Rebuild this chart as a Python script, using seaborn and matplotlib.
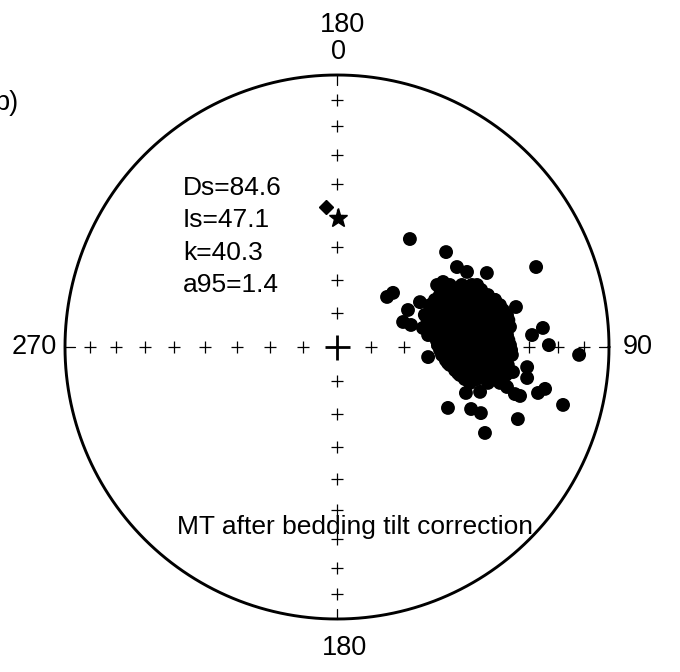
import numpy as np
import pandas as pd
import matplotlib
matplotlib.use("Agg")
import matplotlib.pyplot as plt
import seaborn as sns

# ---------------- data (equal-area projected coordinates, unit-radius net) ----------------
east_outer = [0.268, 0.401, 0.732, 0.184, 0.206, 0.658, 0.261, 0.243, 0.272, 0.551,
              0.441, 0.478, 0.757, 0.717, 0.779, 0.890, 0.335, 0.474, 0.408, 0.493,
              0.529, 0.665, 0.544, 0.831, 0.765, 0.739, 0.625, 0.654, 0.673, 0.699,
              0.699, 0.526, 0.555, 0.305, 0.368, 0.390, 0.515, 0.581, 0.636, 0.316,
              0.335, 0.408, 0.445, 0.647]
north_outer = [0.397, 0.349, 0.294, 0.184, 0.199, 0.147, 0.136, 0.092, 0.081, 0.272,
               0.294, 0.276, 0.070, 0.044, 0.007, -0.029, -0.037, -0.169, -0.224, -0.228,
               -0.243, -0.265, -0.316, -0.213, -0.154, -0.169, -0.147, -0.173, -0.180, -0.074,
               -0.114, -0.165, -0.132, 0.165, 0.228, 0.239, 0.228, 0.173, 0.074, 0.070,
               0.044, -0.059, -0.096, -0.092]

east_core = [0.415, 0.459, 0.496,
             0.400, 0.441, 0.485, 0.530,
             0.378, 0.423, 0.467, 0.511, 0.555,
             0.360, 0.404, 0.448, 0.492, 0.536, 0.580,
             0.342, 0.386, 0.430, 0.474, 0.518, 0.562, 0.599,
             0.345, 0.389, 0.433, 0.478, 0.522, 0.566, 0.610,
             0.323, 0.367, 0.411, 0.456, 0.500, 0.544, 0.588, 0.625,
             0.333, 0.377, 0.421, 0.465, 0.509, 0.553, 0.597, 0.630,
             0.342, 0.386, 0.430, 0.474, 0.518, 0.562, 0.606,
             0.351, 0.395, 0.439, 0.483, 0.527, 0.571, 0.615,
             0.360, 0.404, 0.448, 0.492, 0.536, 0.581, 0.625,
             0.366, 0.410, 0.454, 0.498, 0.542, 0.586, 0.630,
             0.371, 0.415, 0.459, 0.503, 0.547, 0.592, 0.636,
             0.379, 0.423, 0.467, 0.511, 0.555, 0.599, 0.640,
             0.386, 0.430, 0.474, 0.518, 0.562, 0.606, 0.643,
             0.400, 0.445, 0.489, 0.533, 0.577, 0.617,
             0.415, 0.459, 0.503, 0.548, 0.592, 0.628,
             0.434, 0.478, 0.522, 0.566, 0.606,
             0.452, 0.496, 0.540, 0.584, 0.621,
             0.470, 0.514, 0.558, 0.600,
             0.489, 0.599]
north_core = ([0.228] * 3 + [0.210] * 4 + [0.191] * 5 + [0.173] * 6 + [0.154] * 7 +
              [0.136] * 7 + [0.118] * 8 + [0.099] * 8 + [0.081] * 7 + [0.063] * 7 +
              [0.044] * 7 + [0.026] * 7 + [0.007] * 7 + [-0.011] * 7 + [-0.029] * 7 +
              [-0.048] * 6 + [-0.066] * 6 + [-0.085] * 5 + [-0.103] * 5 + [-0.118] * 4 +
              [-0.132] * 2)

star_en = [0.004, 0.474]
diamond_en = [-0.040, 0.515]

grid_incs = [10, 20, 30, 40, 50, 60, 70, 80]
stats_lines = ["Ds=84.6", "Is=47.1", "k=40.3", "a95=1.4"]
title_text = "MT after bedding tilt correction"

# ---------------- plotting ----------------
sns.set_theme(style="white")
plt.rcParams["font.family"] = ["Liberation Sans", "DejaVu Sans"]
plt.rcParams["text.color"] = "black"

W, H, R, CX, CY = 680, 672, 272, 337, 347
fig = plt.figure(figsize=(W / 100, H / 100), dpi=100)
ax = fig.add_axes([0, 0, 1, 1])
ax.set_xlim(-CX / R, (W - CX) / R)
ax.set_ylim(-(H - CY) / R, CY / R)
ax.axis("off")

# primitive circle
th = np.linspace(0, 2 * np.pi, 721)
ax.plot(np.cos(th), np.sin(th), color="black", lw=2.1, zorder=2)

# inclination crosses along the cardinal axes (equal-area spacing)
r_inc = np.sqrt(2) * np.sin(np.radians((90 - np.array(grid_incs)) / 2))
for dx, dy in [(0, 1), (0, -1), (1, 0), (-1, 0)]:
    ax.plot(dx * r_inc, dy * r_inc, ls="none", marker="+", ms=9, mew=0.9,
            color="black", zorder=1)
    ax.plot([dx * 1.0, dx * 0.963], [dy * 1.0, dy * 0.963], color="black", lw=0.9, zorder=1)
ax.plot([0], [0], marker="+", ms=18, mew=2, color="black", zorder=1)

# data points
df = pd.DataFrame({"east": east_outer + east_core, "north": north_outer + north_core})
sns.scatterplot(data=df, x="east", y="north", ax=ax, color="black", s=100,
                edgecolor="none", linewidth=0, zorder=3, legend=False)
ax.plot([star_en[0]], [star_en[1]], marker="*", ms=14, color="black", ls="none", zorder=4)
ax.plot([diamond_en[0]], [diamond_en[1]], marker="D", ms=7, color="black", ls="none", zorder=4)

# labels
fs = 19.5
ax.text(0.022, 1.184, "180", ha="center", va="center", fontsize=fs)
ax.text(0.004, 1.085, "0", ha="center", va="center", fontsize=fs)
ax.text(0.026, -1.107, "180", ha="center", va="center", fontsize=fs)
ax.text(-1.030, 0, "270", ha="right", va="center", fontsize=fs)
ax.text(1.05, 0, "90", ha="left", va="center", fontsize=fs)
for i, line in enumerate(stats_lines):
    ax.text(-0.566, 0.585 - i * 0.119, line, ha="left", va="center", fontsize=19)
ax.text(0.066, -0.688, title_text, ha="center", va="baseline", fontsize=19)
ax.text(-1.262, 0.897, "b)", ha="left", va="center", fontsize=fs)

fig.savefig("out.png", dpi=100)
